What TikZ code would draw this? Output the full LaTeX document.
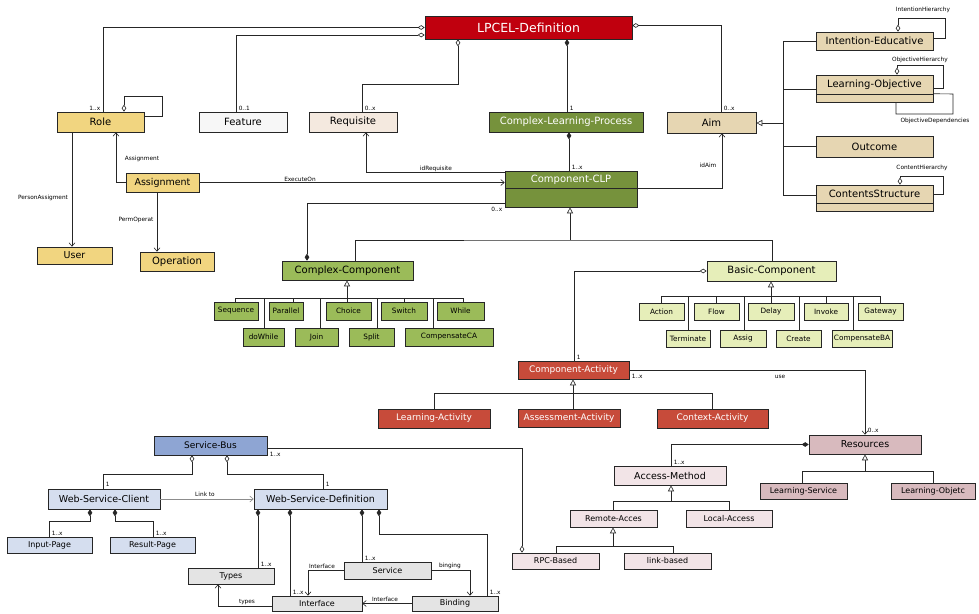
\documentclass[tikz,border=0pt]{standalone}
\usepackage{fontspec}
\setmainfont{DejaVu Sans}
\usetikzlibrary{arrows.meta,calc,shadows}

\definecolor{cRed}{HTML}{C0000E}
\definecolor{cGold}{HTML}{F1D580}
\definecolor{cFeat}{HTML}{F7F7F7}
\definecolor{cReq}{HTML}{F4E9DF}
\definecolor{cOlive}{HTML}{76923C}
\definecolor{cTan}{HTML}{E6D6B2}
\definecolor{cGreen}{HTML}{9BBB59}
\definecolor{cPale}{HTML}{E6EEB9}
\definecolor{cAct}{HTML}{C74B3A}
\definecolor{cRes}{HTML}{D8BABE}
\definecolor{cAcc}{HTML}{F2E4E7}
\definecolor{cBus}{HTML}{8EA5D3}
\definecolor{cWeb}{HTML}{D5DEEF}
\definecolor{cGray}{HTML}{E4E4E4}

% class box given by its corners (x1,y1)-(x2,y2)
\newcommand\umlbox[7]{%
  \pgfmathsetmacro\ubw{#4-#2}\pgfmathsetmacro\ubh{#5-#3}%
  \node[box,#6,minimum width=\ubw pt,minimum height=\ubh pt] (#1) at ({(#2+#4)/2},{(#3+#5)/2}) {#7};}

\tikzset{
  box/.style={draw=black!85, line width=0.6pt, inner sep=0pt, align=center,
    drop shadow={shadow xshift=1.3pt, shadow yshift=-1.3pt, fill=black!50, opacity=.7}},
  big/.style={font=\fontsize{12.5}{14}\selectfont},
  main/.style={font=\fontsize{10}{12}\selectfont},
  mid/.style={font=\fontsize{9.5}{11}\selectfont},
  act/.style={font=\fontsize{9}{11}\selectfont},
  svc/.style={font=\fontsize{8}{10}\selectfont},
  small/.style={font=\fontsize{7.3}{9}\selectfont},
  lbl/.style={font=\fontsize{5.8}{7}\selectfont, inner sep=0.6pt},
  wire/.style={draw=black!85, line width=0.6pt},
  agg/.style={wire, {Diamond[fill=white,length=7pt,width=4.6pt]}-},
  comp/.style={wire, {Diamond[length=7pt,width=4.6pt]}-},
  nav/.style={wire, -{Straight Barb[length=3.5pt,width=6pt]}},
  gen/.style={wire, -{Triangle[fill=white,length=6pt,width=6pt]}}
}

\begin{document}
\begin{tikzpicture}[x=1pt,y=-1pt]
\useasboundingbox (0,0) rectangle (979,613);

% ---------- classes ----------
\umlbox{lpcel}{425}{16}{632}{39}{fill=cRed,text=white,big}{LPCEL-Definition}
\umlbox{role}{57}{112}{144}{132}{fill=cGold,main}{Role}
\umlbox{feature}{199}{112}{287}{132}{fill=cFeat,main}{Feature}
\umlbox{requisite}{309}{112}{397}{132}{fill=cReq,main}{Requisite}
\umlbox{clp}{489}{112}{643}{132}{fill=cOlive,text=white,main}{Complex-Learning-Process}
\umlbox{aim}{667}{112}{756}{133}{fill=cTan,main}{Aim}
\umlbox{intent}{816}{32}{933}{50}{fill=cTan,main}{Intention-Educative}
\umlbox{lobj}{816}{75}{933}{94}{fill=cTan,main}{Learning-Objective}
\umlbox{lobjc}{816}{94}{933}{102}{fill=cTan}{}
\umlbox{outcome}{816}{136}{933}{157}{fill=cTan,main}{Outcome}
\umlbox{cstruct}{816}{185}{933}{203}{fill=cTan,main}{ContentsStructure}
\umlbox{cstructc}{816}{203}{933}{211}{fill=cTan}{}
\umlbox{assign}{126}{173}{199}{192}{fill=cGold,mid}{Assignment}
\umlbox{user}{37}{247}{112}{264}{fill=cGold,mid}{User}
\umlbox{operation}{140}{252}{214}{271}{fill=cGold,main}{Operation}
\umlbox{cclp}{505}{171}{637}{188}{fill=cOlive,text=white,main}{Component-CLP}
\umlbox{cclpc}{505}{188}{637}{207}{fill=cOlive}{}
\umlbox{ccomp}{282}{261}{413}{280}{fill=cGreen,main}{Complex-Component}
\umlbox{basic}{707}{261}{836}{281}{fill=cPale,main}{Basic-Component}

% complex component kinds
\umlbox{sequence}{214}{302}{258}{320}{fill=cGreen,small}{Sequence}
\umlbox{parallel}{269}{302}{303}{320}{fill=cGreen,small}{Parallel}
\umlbox{choice}{326}{302}{371}{320}{fill=cGreen,small}{Choice}
\umlbox{switch}{381}{302}{427}{320}{fill=cGreen,small}{Switch}
\umlbox{while}{437}{302}{484}{320}{fill=cGreen,small}{While}
\umlbox{dowhile}{243}{328}{284}{346}{fill=cGreen,small}{doWhile}
\umlbox{join}{295}{328}{338}{346}{fill=cGreen,small}{Join}
\umlbox{split}{349}{328}{394}{346}{fill=cGreen,small}{Split}
\umlbox{compca}{405}{328}{493}{346}{fill=cGreen,small}{CompensateCA}

% basic component kinds
\umlbox{action}{639}{303}{684}{320}{fill=cPale,small}{Action}
\umlbox{flow}{694}{303}{739}{320}{fill=cPale,small}{Flow}
\umlbox{delay}{748}{303}{794}{320}{fill=cPale,small}{Delay}
\umlbox{invoke}{804}{303}{848}{320}{fill=cPale,small}{Invoke}
\umlbox{gateway}{858}{303}{903}{320}{fill=cPale,small}{Gateway}
\umlbox{terminate}{666}{330}{710}{347}{fill=cPale,small}{Terminate}
\umlbox{assig}{720}{330}{766}{347}{fill=cPale,small}{Assig}
\umlbox{create}{776}{330}{821}{347}{fill=cPale,small}{Create}
\umlbox{compba}{832}{330}{892}{347}{fill=cPale,small}{CompensateBA}

% activities
\umlbox{cact}{518}{361}{629}{379}{fill=cAct,text=white,act}{Component-Activity}
\umlbox{lact}{378}{409}{490}{428}{fill=cAct,text=white,act}{Learning-Activity}
\umlbox{aact}{518}{409}{620}{427}{fill=cAct,text=white,act}{Assessment-Activity}
\umlbox{ctxact}{657}{409}{768}{428}{fill=cAct,text=white,act}{Context-Activity}

% resources
\umlbox{resources}{809}{435}{921}{454}{fill=cRes,mid}{Resources}
\umlbox{lserv}{760}{483}{847}{499}{fill=cRes,svc}{Learning-Service}
\umlbox{lobjt}{891}{483}{975}{499}{fill=cRes,svc}{Learning-Objetc}
\umlbox{amethod}{614}{466}{726}{485}{fill=cAcc,mid}{Access-Method}
\umlbox{remote}{570}{510}{657}{527}{fill=cAcc,svc}{Remote-Acces}
\umlbox{local}{686}{510}{772}{527}{fill=cAcc,svc}{Local-Access}
\umlbox{rpc}{512}{553}{599}{569}{fill=cAcc,svc}{RPC-Based}
\umlbox{link}{624}{553}{711}{569}{fill=cAcc,svc}{link-based}

% web services
\umlbox{sbus}{154}{436}{267}{455}{fill=cBus,act}{Service-Bus}
\umlbox{wsc}{48}{489}{160}{509}{fill=cWeb,mid}{Web-Service-Client}
\umlbox{wsd}{254}{489}{387}{509}{fill=cWeb,mid}{Web-Service-Definition}
\umlbox{input}{7}{537}{92}{553}{fill=cWeb,svc}{Input-Page}
\umlbox{result}{110}{537}{195}{553}{fill=cWeb,svc}{Result-Page}
\umlbox{types}{188}{568}{274}{584}{fill=cGray,svc}{Types}
\umlbox{service}{344}{562}{431}{579}{fill=cGray,svc}{Service}
\umlbox{interface}{272}{596}{362}{611}{fill=cGray,svc}{Interface}
\umlbox{binding}{412}{596}{498}{611}{fill=cGray,svc}{Binding}

% ---------- associations of LPCEL-Definition ----------
\draw[agg] (lpcel.west) -| (role.north -| 103,0);
\node[lbl,anchor=south east] (m1) at (101,111) {1..x};
\draw[agg] ($(lpcel.west)+(0,7.5)$) -| (feature.north -| 236,0);
\node[lbl,anchor=south west] (m2) at (238,111) {0..1};
\draw[agg] (lpcel.south -| 458,0) -- (458,84) -| (requisite.north -| 362,0);
\node[lbl,anchor=south west] (m3) at (364,111) {0..x};
\draw[comp] (lpcel.south -| 567,0) -- (clp.north -| 567,0);
\node[lbl,anchor=south west] (m4) at (569,111) {1};
\draw[agg] ($(lpcel.east)+(0,-2)$) -| (aim.north -| 721,0);
\node[lbl,anchor=south west] (m5) at (723,111) {0..x};

% role
\draw[agg] (role.north -| 124,0) |- (162,96) |- (role.east |- 0,116);
\draw[nav] (role.south -| 72,0) -- (user.north -| 72,0);
\node[lbl] (l1) at (43,198) {PersonAssigment};
\draw[nav] (assign.west) -| (role.south -| 116,0);
\node[lbl] (l2) at (142,159) {Assignment};
\draw[nav] (assign.south -| 157,0) -- (operation.north -| 157,0);
\node[lbl] (l3) at (136,220) {PermOperat};
\draw[nav] (assign.east) -- (cclp.west |- assign.east);
\node[lbl] (l4) at (300,179) {ExecuteOn};

% component-CLP
\draw[nav] ($(cclp.north west)+(0,1.5)$) -| (requisite.south -| 366,0);
\node[lbl] (l5) at (436,169) {idRequisite};
\draw[comp] (clp.south -| 569,0) -- (cclp.north -| 569,0);
\node[lbl,anchor=south west] (m6) at (571,170) {1..x};
\draw[nav] (cclp.south east) -| (aim.south -| 722,0);
\node[lbl] (l6) at (708,165) {idAim};
\draw[comp] (ccomp.north -| 307,0) |- (cclpc.west |- 0,203);
\node[lbl,anchor=east] (m7) at (503,209) {0..x};

% aim hierarchy
\coordinate (gk) at (783,123);
\draw[gen] (gk) -- (aim.east |- gk);
\draw[wire] (783,41) -- (783,195);
\draw[wire] (783,41) -- (intent.west |- 0,41);
\draw[wire] (783,89) -- (lobj.west |- 0,89);
\draw[wire] (783,146.5) -- (outcome.west);
\draw[wire] (783,195) -- (cstruct.west |- 0,195);
\draw[agg] (intent.north -| 898,0) |- (945,18) |- (intent.east |- 0,38);
\node[lbl] (l7) at (923,10) {IntentionHierarchy};
\draw[agg] (lobj.north -| 897,0) |- (943,65) |- (lobj.east |- 0,88);
\node[lbl] (l8) at (920,60) {ObjectiveHierarchy};
\draw[wire] (lobjc.north east) -- (953,94) |- (896,114) -- (lobjc.south -| 896,0);
\node[lbl] (l9) at (935,121) {ObjectiveDependencies};
\draw[agg] (cstruct.north -| 900,0) |- (943,176) |- (cstruct.east |- 0,194);
\node[lbl] (l10) at (922,168) {ContentHierarchy};

% component kinds
\coordinate (gj) at (570,240);
\draw[wire] (ccomp.north -| 355,0) |- (gj) -| (basic.north -| 772,0);
\draw[gen] (gj) -- (cclpc.south -| gj);
\draw[agg] (basic.west) -| (cact.north -| 574,0);
\node[lbl,anchor=south west] (m8) at (576,360) {1};

\coordinate (cj) at (347,298);
\draw[gen] (cj) -- (ccomp.south -| cj);
\draw[wire] (235,298) -- (463,298);
\foreach \n/\x in {sequence/235,dowhile/264,parallel/293,join/320,choice/347,split/377,switch/404,compca/433,while/463}
  \draw[wire] (\n.north -| \x,0) -- (\x,298);

\coordinate (bj) at (771,296);
\draw[gen] (bj) -- (basic.south -| bj);
\draw[wire] (661,296) -- (880,296);
\foreach \n/\x in {action/661,terminate/688,flow/716,assig/744,delay/771,create/799,invoke/826,compba/853,gateway/880}
  \draw[wire] (\n.north -| \x,0) -- (\x,296);

% activities
\coordinate (aj) at (573,393);
\draw[gen] (aj) -- (cact.south -| aj);
\draw[wire] (434,393) -- (712,393);
\foreach \n/\x in {lact/434,aact/573,ctxact/712}
  \draw[wire] (\n.north -| \x,0) -- (\x,393);
\draw[nav] (cact.east) -| (resources.north -| 865,0);
\node[lbl,anchor=north west] (m9) at (631,373) {1..x};
\node[lbl] (l11) at (780,377) {use};
\node[lbl,anchor=south west] (m10) at (867,433) {0..x};

% resources
\coordinate (rj) at (865,471);
\draw[gen] (rj) -- (resources.south -| rj);
\draw[wire] (802,471) -- (933,471);
\draw[wire] (lserv.north -| 802,0) -- (802,471);
\draw[wire] (lobjt.north -| 933,0) -- (933,471);
\draw[comp] (resources.west) -| (amethod.north -| 671,0);
\node[lbl,anchor=south west] (m11) at (673,465) {1..x};
\coordinate (acj) at (671,501);
\draw[gen] (acj) -- (amethod.south -| acj);
\draw[wire] (613,501) -- (729,501);
\draw[wire] (remote.north -| 613,0) -- (613,501);
\draw[wire] (local.north -| 729,0) -- (729,501);
\coordinate (rmj) at (613,546);
\draw[gen] (rmj) -- (remote.south -| rmj);
\draw[wire] (556,546) -- (673,546);
\draw[wire] (rpc.north -| 556,0) -- (556,546);
\draw[wire] (link.north -| 673,0) -- (673,546);

% web services
\draw[agg] (rpc.north -| 522,0) |- (sbus.east |- 0,448);
\node[lbl,anchor=north west] (m12) at (269,451) {1..x};
\draw[agg] (sbus.south -| 192,0) -- (192,474) -| (wsc.north -| 103,0);
\node[lbl,anchor=south west] (m13) at (105,487) {1};
\draw[agg] (sbus.south -| 227,0) -- (227,474) -| (wsd.north -| 323,0);
\node[lbl,anchor=south west] (m14) at (325,487) {1};
\draw[nav,draw=black!45] (wsc.east) -- (wsd.west);
\node[lbl] (l12) at (205,494) {Link to};
\draw[comp] (wsc.south -| 90,0) -- (90,521) -| (input.north -| 49,0);
\node[lbl,anchor=south west] (m15) at (51,536) {1..x};
\draw[comp] (wsc.south -| 115,0) -- (115,521) -| (result.north -| 153,0);
\node[lbl,anchor=south west] (m16) at (155,536) {1..x};
\draw[comp] (wsd.south -| 258,0) -- (types.north -| 258,0);
\node[lbl,anchor=south west] (m17) at (260,567) {1..x};
\draw[comp] (wsd.south -| 290,0) -- (interface.north -| 290,0);
\node[lbl,anchor=south west] (m18) at (292,595) {1..x};
\draw[comp] (wsd.south -| 362,0) -- (service.north -| 362,0);
\node[lbl,anchor=south west] (m19) at (364,561) {1..x};
\draw[comp] (wsd.south -| 379,0) -- (379,534) -| (binding.north -| 487,0);
\node[lbl,anchor=south west] (m20) at (489,595) {1..x};
\draw[nav] (service.west) -| (interface.north -| 308,0);
\node[lbl] (l13) at (322,566) {Interface};
\draw[nav] (service.east) -| (binding.north -| 470,0);
\node[lbl] (l14) at (450,566) {binging};
\draw[nav] (binding.west) -- (interface.east);
\node[lbl] (l15) at (385,599) {Interface};
\draw[nav] (interface.west |- 0,606) -| (types.south -| 218,0);
\node[lbl] (l16) at (247,602) {types};
\end{tikzpicture}
\end{document}
